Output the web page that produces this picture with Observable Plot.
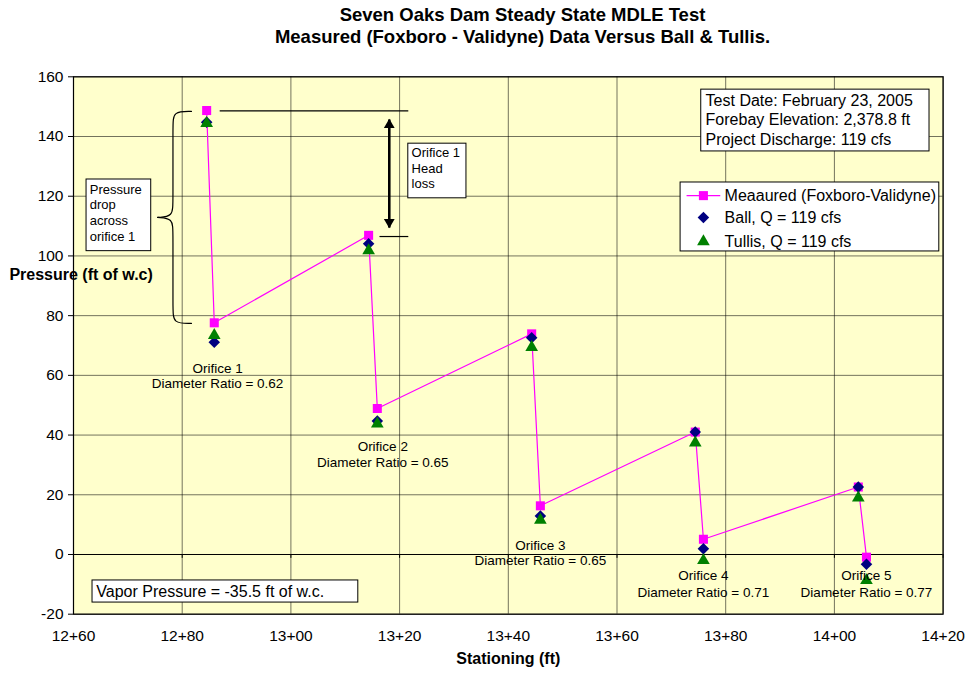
<!DOCTYPE html>
<html>
<head>
<meta charset="utf-8">
<script src="https://cdn.jsdelivr.net/npm/d3@7"></script>
<script src="https://cdn.jsdelivr.net/npm/@observablehq/plot@0.6"></script>
<style>
  body { margin: 0; background: white; }
  #title { width: 967px; height: 50px; box-sizing: border-box; padding: 4px 0 0 78px; text-align: center;
    font: bold 18.5px/22px "Liberation Sans", Arial, sans-serif; color: black; }
</style>
</head>
<body>
<div id="title">Seven Oaks Dam Steady State MDLE Test<br>Measured (Foxboro - Validyne) Data Versus Ball &amp; Tullis.</div>
<div id="chart"></div>
<script>
// ---- data ----
const stations = [1284.5, 1285.9, 1314.3, 1315.9, 1344.3, 1345.9, 1374.4, 1375.9, 1404.4, 1405.9];
const measured = [148.7, 77.6, 106.9, 48.9, 73.9, 16.3, 41.0, 5.1, 22.6, -0.9];
const ball     = [144.8, 71.1, 104.1, 44.7, 72.6, 12.9, 41.0, 1.9, 22.6, -3.3];
const tullis   = [144.4, 73.4, 101.8, 43.8, 69.4, 11.5, 37.4, -2.0, 19.0, -8.7];

const xTicks = [1260, 1280, 1300, 1320, 1340, 1360, 1380, 1400, 1420];
const yTicks = [-20, 0, 20, 40, 60, 80, 100, 120, 140, 160];
const stationFmt = d => `${Math.floor(d / 100)}+${String(d % 100).padStart(2, "0")}`;

const seriesNames = ["Meaaured (Foxboro-Validyne)", "Ball, Q = 119 cfs", "Tullis, Q = 119 cfs"];

// orifice labels (data coordinates)
const orificeNames = ["Orifice 1", "Orifice 2", "Orifice 3", "Orifice 4", "Orifice 5"];
const orificeRatios = ["Diameter Ratio = 0.62", "Diameter Ratio = 0.65", "Diameter Ratio = 0.65", "Diameter Ratio = 0.71", "Diameter Ratio = 0.77"];
const orificeX = [1286.5, 1316.9, 1345.9, 1375.9, 1405.9];
const orificeY1 = [62.3, 36.1, 3.0, -7.1, -7.1];
const orificeY2 = [57.3, 30.8, -2.0, -12.8, -12.8];

// annotation boxes (data coordinates)
const boxes = [
  {x1: 1262.4, x2: 1274.3, y1: 101.6, y2: 125.6},   // pressure drop
  {x1: 1321.6, x2: 1332.3, y1: 119.3, y2: 137.6},   // head loss
  {x1: 1375.5, x2: 1417.5, y1: 135.0, y2: 155.7},   // test info
  {x1: 1263.5, x2: 1312.4, y1: -16.1, y2: -8.7}     // vapor pressure
];
const boxTexts = [
  {x: 1263.0, y: 122.3, text: "Pressure", size: 13},
  {x: 1263.0, y: 117.1, text: "drop", size: 13},
  {x: 1263.0, y: 111.8, text: "across", size: 13},
  {x: 1263.0, y: 106.4, text: "orifice 1", size: 13},
  {x: 1322.2, y: 134.4, text: "Orifice 1", size: 13},
  {x: 1322.2, y: 129.1, text: "Head", size: 13},
  {x: 1322.2, y: 124.0, text: "loss", size: 13},
  {x: 1376.3, y: 152.1, text: "Test Date: February 23, 2005", size: 16},
  {x: 1376.3, y: 145.6, text: "Forebay Elevation: 2,378.8 ft", size: 16},
  {x: 1376.3, y: 139.0, text: "Project Discharge: 119 cfs", size: 16},
  {x: 1264.2, y: -12.4, text: "Vapor Pressure = -35.5 ft of w.c.", size: 16}
];

// head-loss guide lines and arrow
const guideLines = [
  {x1: 1286.9, x2: 1321.6, y: 148.6},
  {x1: 1316.3, x2: 1321.6, y: 106.5}
];
const arrowX = 1318.1, arrowTop = 145.7, arrowBottom = 109.5;

// curly brace (two halves, basis curve)
const braceUpper = [[1281.7, 148.4], [1278.3, 148.4], [1278.3, 144.0], [1278.3, 118.0], [1278.3, 113.2], [1275.5, 112.9]];
const braceLower = [[1275.5, 112.9], [1278.3, 112.6], [1278.3, 108.0], [1278.3, 82.0], [1278.3, 77.4], [1281.7, 77.4]];

// legend (data coordinates inside the plot)
const legendBox = {x1: 1371.7, x2: 1419.3, y1: 101.5, y2: 124.6};
const legendRowsY = [120.2, 112.9, 104.8];
const legendLineX = [1372.8, 1379.0];
const legendSymX = 1375.9;
const legendTextX = 1379.8;

// ---- build ----
const meas = stations.map((x, i) => ({x, y: measured[i]}));
const balls = stations.map((x, i) => ({x, y: ball[i]}));
const tulls = stations.map((x, i) => ({x, y: tullis[i]}));
const orifices = orificeNames.map((n, i) => ({x: orificeX[i], y1: orificeY1[i], y2: orificeY2[i], name: n, ratio: orificeRatios[i]}));
const font = "'Liberation Sans', Arial, sans-serif";

const chart = Plot.plot({
  width: 967,
  height: 625,
  marginTop: 26.3,
  marginBottom: 61.3,
  marginLeft: 73,
  marginRight: 24.4,
  x: {domain: [1260, 1420]},
  y: {domain: [-20, 160]},
  style: {fontFamily: font, fontSize: "15.5px", color: "black", background: "white", overflow: "visible"},
  marks: [
    Plot.frame({fill: "#FFFFCC"}),
    Plot.gridX(xTicks, {stroke: "#000", strokeOpacity: 0.55, strokeWidth: 1}),
    Plot.gridY(yTicks, {stroke: "#000", strokeOpacity: 0.55, strokeWidth: 1}),
    Plot.ruleY([0], {stroke: "black", strokeWidth: 1.2}),
    Plot.ruleX(xTicks, {y1: 0, y2: -1.3, stroke: "black"}),
    Plot.frame({stroke: "black", strokeWidth: 1.2}),
    Plot.axisY({ticks: yTicks, tickSize: 5, tickPadding: 5, label: null, fontSize: 15.5, tickFormat: d => String(d)}),
    Plot.axisX({ticks: xTicks, tickSize: 0, tickPadding: 16, label: null, tickFormat: stationFmt, fontSize: 15.5}),
    Plot.text(["Pressure (ft of w.c)"], {x: 1261.4, y: 93.8, fontWeight: "bold", fontSize: 16, textAnchor: "middle"}),
    Plot.text(["Stationing (ft)"], {frameAnchor: "bottom", dy: 50, fontWeight: "bold", fontSize: 16}),

    // brace & head-loss guides
    Plot.line(braceUpper, {x: d => d[0], y: d => d[1], curve: "basis", stroke: "black", strokeWidth: 1.2}),
    Plot.line(braceLower, {x: d => d[0], y: d => d[1], curve: "basis", stroke: "black", strokeWidth: 1.2}),
    Plot.link(guideLines, {x1: "x1", x2: "x2", y1: "y", y2: "y", stroke: "black", strokeWidth: 1.2}),
    Plot.link([0], {x1: () => arrowX, x2: () => arrowX, y1: () => arrowTop, y2: () => arrowBottom, stroke: "black", strokeWidth: 2.6}),
    Plot.dot([0], {x: () => arrowX, y: () => arrowTop, symbol: "triangle", r: 4, fill: "black", dy: 5.5}),
    Plot.dot([0], {x: () => arrowX, y: () => arrowBottom, symbol: "triangle", r: 4, fill: "black", rotate: 180, dy: -5.5}),

    // boxes
    Plot.rect(boxes, {x1: "x1", x2: "x2", y1: "y1", y2: "y2", fill: "white", stroke: "black", strokeWidth: 1}),
    Plot.text(boxTexts, {x: "x", y: "y", text: "text", fontSize: d => d.size, textAnchor: "start", lineAnchor: "middle"}),

    // data
    Plot.line(meas, {x: "x", y: "y", stroke: "#FF00FF", strokeWidth: 1.2}),
    Plot.dot(meas, {x: "x", y: "y", symbol: "square", r: 5.1, fill: "#FF00FF", stroke: "none"}),
    Plot.dot(balls, {x: "x", y: "y", symbol: "diamond2", r: 5.2, fill: "#000080", stroke: "none"}),
    Plot.dot(tulls, {x: "x", y: "y", symbol: "triangle", r: 4.7, fill: "#008000", stroke: "none"}),

    // orifice labels
    Plot.text(orifices, {x: "x", y: "y1", text: "name", fontSize: 13.5, lineAnchor: "middle"}),
    Plot.text(orifices, {x: "x", y: "y2", text: "ratio", fontSize: 13.5, lineAnchor: "middle"}),

    // legend
    Plot.rect([legendBox], {x1: "x1", x2: "x2", y1: "y1", y2: "y2", fill: "white", stroke: "black", strokeWidth: 1}),
    Plot.link([0], {x1: () => legendLineX[0], x2: () => legendLineX[1], y1: () => legendRowsY[0], y2: () => legendRowsY[0], stroke: "#FF00FF", strokeWidth: 1.2}),
    Plot.dot([0], {x: () => legendSymX, y: () => legendRowsY[0], symbol: "square", r: 5.1, fill: "#FF00FF"}),
    Plot.dot([0], {x: () => legendSymX, y: () => legendRowsY[1], symbol: "diamond2", r: 5.2, fill: "#000080", stroke: "none"}),
    Plot.dot([0], {x: () => legendSymX, y: () => legendRowsY[2], symbol: "triangle", r: 4.7, fill: "#008000"}),
    Plot.text(seriesNames, {x: () => legendTextX, y: (d, i) => legendRowsY[i], text: d => d, fontSize: 16, textAnchor: "start", lineAnchor: "middle"})
  ]
});
document.getElementById("chart").appendChild(chart);
</script>
</body>
</html>
